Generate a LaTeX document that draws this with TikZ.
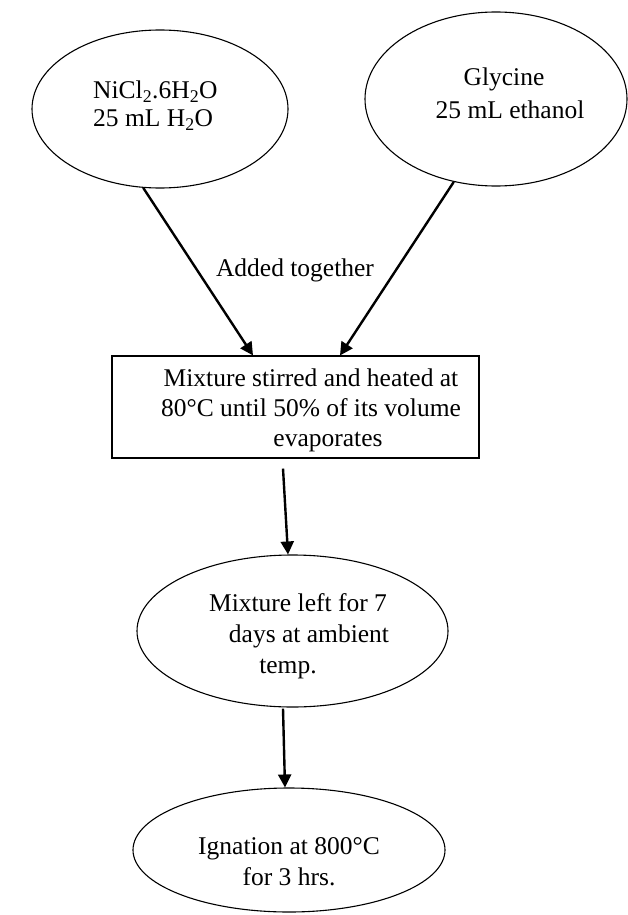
\documentclass[tikz,border=0pt]{standalone}
\usepackage{fontspec}
\setmainfont{Liberation Serif}
\usetikzlibrary{arrows.meta,calc,shapes.geometric}
\begin{document}
\begin{tikzpicture}[x=1pt,y=-1pt,
  shapeline/.style={draw=black, line width=1.1pt},
  oval/.style={shapeline, ellipse, inner sep=0pt},
  txt/.style={font=\fontsize{25.5}{30}\selectfont, inner sep=0pt},
  flow/.style={line width=2.4pt, -{Triangle[length=13pt,width=13pt]}},
]
\useasboundingbox (0,0) rectangle (628,915);
% shapes
\node[oval, minimum width=256pt, minimum height=158pt] (L) at (160,109) {};
\node[oval, minimum width=262pt, minimum height=174pt] (R) at (496,99) {};
\node[shapeline, rectangle, minimum width=367pt, minimum height=102pt, inner sep=0pt] (B) at (295.5,407) {};
\node[oval, minimum width=311pt, minimum height=152pt] (M) at (292.5,631) {};
\node[oval, minimum width=312pt, minimum height=124pt] (I) at (289,850) {};
% texts
\node[txt, anchor=west, align=left] (Lt) at (93,106) {NiCl\textsubscript{2}.6H\textsubscript{2}O\\[-2pt]25 mL H\textsubscript{2}O};
\node[txt, align=center] (Rt) at (504,93) {Glycine\\[3pt]\hspace*{12pt}25 mL ethanol};
\node[txt, align=center] (Bt) at (311,410) {Mixture stirred and heated at\\80°C until 50\% of its volume\\\hspace*{34pt}evaporates};
\node[txt, align=center] (Mt) at (298,636) {Mixture left for 7\\[1pt]\hspace*{22pt}days at ambient\\[1pt]temp.\hspace*{20pt}};
\node[txt, align=center] (It) at (289,862) {Ignation at 800°C\\[1pt]for 3 hrs.};
\node[txt] (add) at (295,270) {Added together};
% connectors
\draw[flow] (L.-102) -- ($(B.north)+(-42.5,0)$);
\draw[flow] (R.-117) -- ($(B.north)+(44.5,0)$);
\draw[flow] ($(B.south)+(-12.5,10)$) -- ($(M.north)+(-4.5,0)$);
\draw[flow] ($(M.south)+(-9.5,1)$) -- ($(I.north)+(-4,0)$);
\end{tikzpicture}
\end{document}
